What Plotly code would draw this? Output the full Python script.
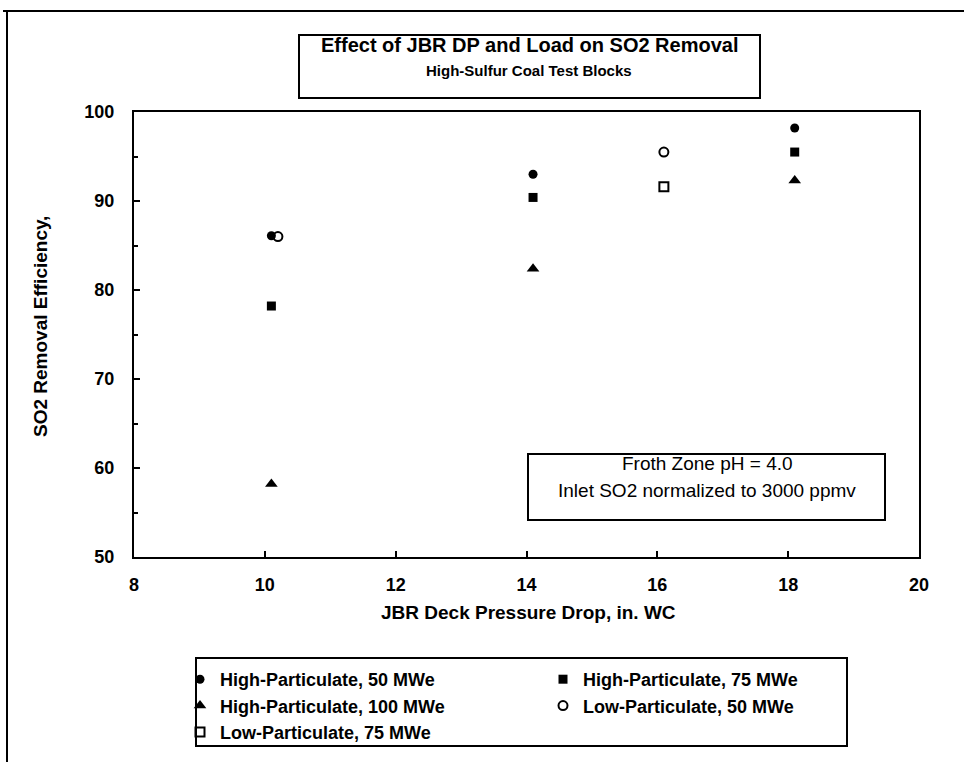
import plotly.graph_objects as go

# Test-block results: JBR deck pressure drop (in. WC) vs SO2 removal efficiency (%)
hp50_dp = [10.1, 14.1, 18.1]
hp50_eff = [86.1, 93.0, 98.2]

hp75_dp = [10.1, 14.1, 18.1]
hp75_eff = [78.2, 90.4, 95.5]

hp100_dp = [10.1, 14.1, 18.1]
hp100_eff = [58.2, 82.4, 92.3]

lp50_dp = [10.2, 16.1]
lp50_eff = [86.0, 95.5]

lp75_dp = [16.1]
lp75_eff = [91.6]

x_ticks = [8, 10, 12, 14, 16, 18, 20]
y_ticks = [50, 60, 70, 80, 90, 100]

FONT = "Arial, Liberation Sans, sans-serif"
W, H = 964, 762
ML, MR, MT, MB = 134, 45, 112, 205
PW, PH = W - ML - MR, H - MT - MB


def px(x):
    return (x - ML) / PW


def py(y):
    return (H - MB - y) / PH


fig = go.Figure()

series = [
    ("High-Particulate, 50 MWe", hp50_dp, hp50_eff, "circle", 9, 318),
    ("High-Particulate, 75 MWe", hp75_dp, hp75_eff, "square", 9, 250),
    ("High-Particulate, 100 MWe", hp100_dp, hp100_eff, "triangle-up", 11, 318),
    ("Low-Particulate, 50 MWe", lp50_dp, lp50_eff, "circle-open", 9, 250),
    ("Low-Particulate, 75 MWe", lp75_dp, lp75_eff, "square-open", 9, 318),
]

for name, xs, ys, sym, size, lw in series:
    fig.add_trace(go.Scatter(
        x=xs, y=ys, mode="markers", name=name,
        marker=dict(symbol=sym, size=size, color="black",
                    line=dict(color="black", width=2 if "open" in sym else 0)),
        legendwidth=lw,
    ))

axis_common = dict(
    showline=True, linecolor="black", linewidth=2, mirror=True,
    showgrid=False, zeroline=False,
    ticks="inside", tickcolor="black", tickwidth=2, ticklen=6,
    tickfont=dict(family=FONT, size=18, color="black", weight="bold"),
)

fig.update_xaxes(range=[8, 20], tickvals=x_ticks, ticklabelstandoff=10, **axis_common)
fig.update_yaxes(range=[50, 100], tickvals=y_ticks, ticklabelstandoff=14,
                 minor=dict(ticks="inside", dtick=5, ticklen=4, tickwidth=2, tickcolor="black"),
                 **axis_common)

shapes = [
    # outer frame (top and left edges)
    dict(type="line", xref="paper", yref="paper", x0=px(3), x1=px(966), y0=py(11), y1=py(11),
         line=dict(color="black", width=2)),
    dict(type="line", xref="paper", yref="paper", x0=px(7), x1=px(7), y0=py(11), y1=py(762),
         line=dict(color="black", width=2)),
    # title box
    dict(type="rect", xref="paper", yref="paper", x0=px(299), x1=px(760), y0=py(35), y1=py(98),
         line=dict(color="black", width=2), fillcolor="white", layer="below"),
    # conditions box
    dict(type="rect", xref="paper", yref="paper", x0=px(528), x1=px(885), y0=py(454), y1=py(520),
         line=dict(color="black", width=2), fillcolor="white", layer="below"),
    # legend box
    dict(type="rect", xref="paper", yref="paper", x0=px(196), x1=px(847), y0=py(658), y1=py(746),
         line=dict(color="black", width=2), fillcolor="white", layer="below"),
]

annotations = [
    dict(text="<b>Effect of JBR DP and Load on SO2 Removal</b>", x=px(529), y=py(45),
         font=dict(family=FONT, size=20, color="black")),
    dict(text="<b>High-Sulfur Coal Test Blocks</b>", x=px(529), y=py(70),
         font=dict(family=FONT, size=15, color="black")),
    dict(text="Froth Zone pH = 4.0", x=px(707), y=py(463),
         font=dict(family=FONT, size=19, color="black")),
    dict(text="Inlet SO2 normalized to 3000 ppmv", x=px(707), y=py(490),
         font=dict(family=FONT, size=19, color="black")),
    dict(text="<b>JBR Deck Pressure Drop, in. WC</b>", x=px(528), y=py(612),
         font=dict(family=FONT, size=19, color="black")),
    dict(text="<b>SO2 Removal Efficiency,</b>", x=px(40), y=py(327), textangle=-90,
         font=dict(family=FONT, size=19, color="black")),
]
for a in annotations:
    a.update(xref="paper", yref="paper", showarrow=False, xanchor="center", yanchor="middle")

fig.update_layout(
    width=W, height=H,
    margin=dict(l=ML, r=MR, t=MT, b=MB, autoexpand=False),
    paper_bgcolor="white", plot_bgcolor="white",
    shapes=shapes, annotations=annotations,
    showlegend=True,
    legend=dict(
        orientation="h", x=px(180), y=py(661), xanchor="left", yanchor="top",
        bgcolor="rgba(0,0,0,0)", borderwidth=0, itemwidth=30,
        font=dict(family=FONT, size=18, color="black", weight="bold"),
    ),
)

fig.write_html("out.html")
